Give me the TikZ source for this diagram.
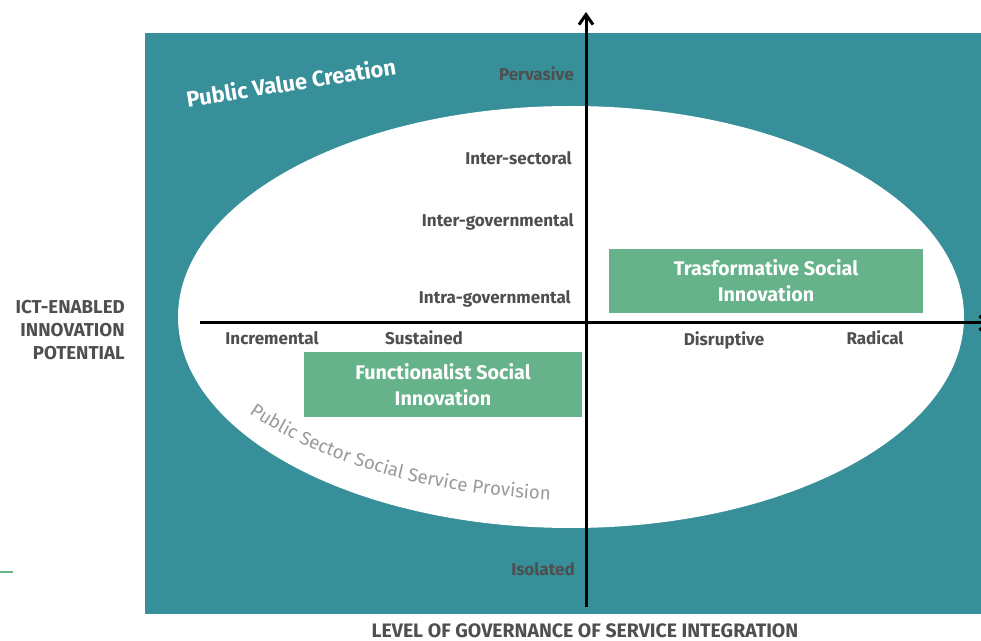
\documentclass[tikz,border=0pt]{standalone}
\usepackage{fontspec}
\setmainfont{Fira Sans}
\usepackage{xcolor}
\usetikzlibrary{shapes.geometric, arrows.meta, decorations.text}
\definecolor{tealbg}{HTML}{368F99}
\definecolor{quadgreen}{HTML}{66B28A}
\definecolor{labelgray}{HTML}{4F4F4F}
\definecolor{arcgray}{HTML}{9A9A9A}
\tikzset{
  axislabel/.style={font=\bfseries\fontsize{12.8}{15}\selectfont, text=labelgray, inner sep=0pt},
  quadbox/.style={rectangle, fill=quadgreen, text=white, align=center, inner sep=0pt, font=\bfseries\fontsize{14.8}{19.5}\selectfont},
  axisarrow/.style={-{Straight Barb[length=7.5pt, width=10.5pt]}, line width=2.25pt},
}

\begin{document}
\begin{tikzpicture}[x=0.75pt, y=-0.75pt]
    \useasboundingbox (0,0) rectangle (981,641);
    \fill[tealbg] (145,33) rectangle (981,614);
    \draw[quadgreen, line width=1.5pt] (0,572) -- (13,572);
    \node[ellipse, fill=white, minimum width=589.5pt, minimum height=316.5pt, inner sep=0pt] (core) at (571,317) {};

    \node[rotate=9, text=white, inner sep=0pt, font=\bfseries\fontsize{16.5}{19}\selectfont] (pvc) at (291,82) {Public Value Creation};
    \path[decorate, decoration={text along path, text color=arcgray,
        text={|\fontsize{14}{16}\selectfont|Public Sector Social Service Provision}}]
        (249,413) .. controls (330,470) and (450,497) .. (562,500);

    \node[quadbox, minimum width=235.5pt, minimum height=48pt] (trans) at (766,281) {Trasformative Social\\Innovation};
    \node[quadbox, minimum width=208.5pt, minimum height=48.75pt] (func) at (443,384.5) {Functionalist Social\\Innovation};

    % axes
    \coordinate (ybot) at (586,607);
    \coordinate (ytop) at (586,12);
    \coordinate (xleft) at (200,323);
    \coordinate (xright) at (992,323);
    \draw[axisarrow] (ybot) -- (ytop);
    \draw[axisarrow] (xleft) -- (xright);

    \node[axislabel, anchor=east] (perv) at (574,74) {Pervasive};
    \node[axislabel, anchor=east] (intsec) at (572,158) {Inter-sectoral};
    \node[axislabel, anchor=east] (intergov) at (574,222) {Inter-governmental};
    \node[axislabel, anchor=east] (intragov) at (571,299) {Intra-governmental};
    \node[axislabel, anchor=east] (iso) at (575,569) {Isolated};
    \node[axislabel] (incr) at (272,338) {Incremental};
    \node[axislabel] (sust) at (424,338) {Sustained};
    \node[axislabel] (disr) at (724,340) {Disruptive};
    \node[axislabel] (radi) at (875,338) {Radical};

    \node[axislabel, anchor=east, align=right, font=\bfseries\fontsize{14}{17.5}\selectfont] (ylab) at (125,330) {ICT-ENABLED\\INNOVATION\\POTENTIAL};
    \node[axislabel, font=\bfseries\fontsize{14.6}{17}\selectfont] (xlab) at (585,631) {LEVEL OF GOVERNANCE OF SERVICE INTEGRATION};
\end{tikzpicture}
\end{document}
